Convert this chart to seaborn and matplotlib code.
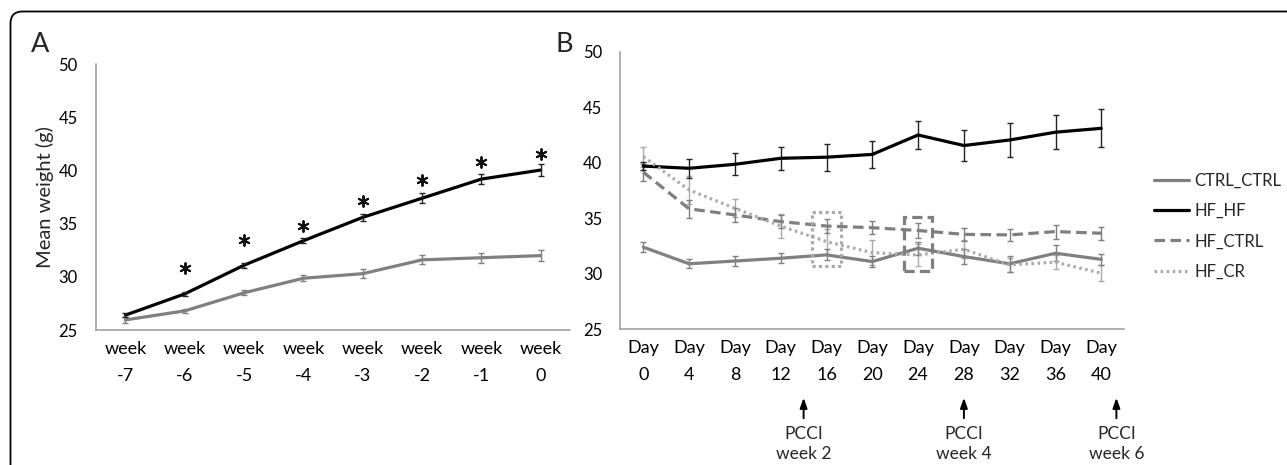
import numpy as np
import pandas as pd
import seaborn as sns
import matplotlib
matplotlib.use("Agg")
import matplotlib.pyplot as plt
import matplotlib.transforms as mtransforms
from matplotlib.patches import FancyBboxPatch, Rectangle
from matplotlib.lines import Line2D

# ---------------- data ----------------
weeks = ["-7", "-6", "-5", "-4", "-3", "-2", "-1", "0"]
a_ctrl = [25.95, 26.8, 28.5, 29.87, 30.3, 31.6, 31.8, 32.0]
a_ctrl_err = [0.25, 0.2, 0.25, 0.28, 0.4, 0.42, 0.47, 0.5]
a_hf = [26.4, 28.4, 31.1, 33.4, 35.6, 37.4, 39.2, 40.05]
a_hf_err = [0.2, 0.2, 0.25, 0.25, 0.35, 0.45, 0.5, 0.55]
star_weeks = ["-6", "-5", "-4", "-3", "-2", "-1", "0"]
star_y = [30.8, 33.5, 34.8, 37.1, 39.1, 40.8, 41.6]

days = ["0", "4", "8", "12", "16", "20", "24", "28", "32", "36", "40"]
b_ctrl_ctrl = [32.4, 30.9, 31.15, 31.4, 31.7, 31.1, 32.3, 31.55, 30.9, 31.85, 31.3]
b_ctrl_ctrl_err = [0.45, 0.4, 0.45, 0.45, 0.5, 0.5, 0.6, 0.7, 0.7, 0.72, 0.5]
b_hf_hf = [39.7, 39.5, 39.86, 40.4, 40.5, 40.75, 42.5, 41.55, 42.05, 42.75, 43.1]
b_hf_hf_err = [0.35, 0.86, 1.0, 1.05, 1.2, 1.25, 1.3, 1.37, 1.56, 1.55, 1.7]
b_hf_ctrl = [39.15, 35.85, 35.3, 34.7, 34.3, 34.15, 33.9, 33.55, 33.5, 33.8, 33.65]
b_hf_ctrl_err = [0.75, 0.8, 0.6, 0.6, 0.6, 0.6, 0.65, 0.6, 0.57, 0.63, 0.6]
b_hf_cr = [40.55, 37.55, 35.9, 34.3, 32.9, 31.9, 31.7, 32.2, 30.8, 31.05, 30.05]
b_hf_cr_err = [0.9, 1.3, 0.8, 1.1, 1.1, 1.1, 1.0, 0.8, 0.6, 0.65, 0.72]

groups = ["CTRL_CTRL", "HF_HF", "HF_CTRL", "HF_CR"]
pcci_labels = ["week 2", "week 4", "week 6"]

# highlighted points (day, y-low, y-high)
box16 = ("16", 30.7, 35.6)
box24 = ("24", 30.25, 35.1)

# ---------------- style ----------------
sns.set_theme(style="white")
plt.rcParams["font.family"] = ["Lato", "DejaVu Sans"]
FS_Y = 12
FS_X = 13
FS_LEG = 12
FS_PCCI = 12.5

colors = {"CTRL_CTRL": "#808080", "HF_HF": "#000000", "HF_CTRL": "#7f7f7f", "HF_CR": "#aaaaaa"}
ecolors = {"CTRL_CTRL": "#808080", "HF_HF": "#222222", "HF_CTRL": "#7f7f7f", "HF_CR": "#aaaaaa"}
LW = 2.3
dashes = {"CTRL_CTRL": "", "HF_HF": "", "HF_CTRL": (3.3, 1.7), "HF_CR": (0.8, 1.1)}
spine_c = "#9a9a9a"

fig = plt.figure(figsize=(12.87, 4.65), dpi=100)
W, H = 1287, 465
axA = fig.add_axes([95.8 / W, 1 - 330 / H, 474.6 / W, (330 - 64.3) / H])
axB = fig.add_axes([620.4 / W, 1 - 329.3 / H, 503.8 / W, (329.3 - 51.7) / H])

# ---------------- panel A ----------------
dfA = pd.DataFrame({
    "pos": list(range(len(weeks))) * 2,
    "value": a_ctrl + a_hf,
    "group": ["CTRL"] * len(weeks) + ["HF"] * len(weeks),
})
sns.lineplot(data=dfA, x="pos", y="value", hue="group",
             palette={"CTRL": "#808080", "HF": "#000000"},
             linewidth=LW, legend=False, ax=axA, sort=False)
xa = np.arange(len(weeks))
axA.errorbar(xa, a_ctrl, yerr=a_ctrl_err, fmt="none", ecolor="#808080", elinewidth=1.0, capsize=2.3, capthick=1.0)
axA.errorbar(xa, a_hf, yerr=a_hf_err, fmt="none", ecolor="#222222", elinewidth=1.0, capsize=2.3, capthick=1.0)
sx = [weeks.index(w) for w in star_weeks]
axA.scatter(sx, star_y, marker=(6, 2, 0), s=60, color="#111111", linewidths=1.4, zorder=5)

axA.set_xlim(-0.5, len(weeks) - 0.5)
axA.set_ylim(25, 50)
axA.set_yticks([25, 30, 35, 40, 45, 50])
axA.set_xticks(xa)
axA.set_xticklabels([f"week\n{w}" for w in weeks])
axA.set_ylabel("Mean weight (g)", fontsize=14.5, labelpad=3)
axA.set_xlabel("")

# ---------------- panel B ----------------
xb = np.arange(len(days))
series = {"CTRL_CTRL": (b_ctrl_ctrl, b_ctrl_ctrl_err), "HF_HF": (b_hf_hf, b_hf_hf_err),
          "HF_CTRL": (b_hf_ctrl, b_hf_ctrl_err), "HF_CR": (b_hf_cr, b_hf_cr_err)}
rows = []
for g in groups:
    for i, v in enumerate(series[g][0]):
        rows.append({"pos": i, "value": v, "group": g})
dfB = pd.DataFrame(rows)
order_draw = ["HF_CR", "HF_CTRL", "CTRL_CTRL", "HF_HF"]
for g in order_draw:
    vals, errs = series[g]
    axB.errorbar(xb, vals, yerr=errs, fmt="none", ecolor=ecolors[g], elinewidth=1.0,
                 capsize=2.3, capthick=1.0, zorder=2)
sns.lineplot(data=dfB, x="pos", y="value", hue="group", style="group",
             hue_order=groups, style_order=groups, palette=colors, dashes=dashes,
             linewidth=LW, legend=False, ax=axB, sort=False, zorder=3)
for line in axB.get_lines():
    line.set_dash_capstyle("butt")

# highlight boxes
for (d, lo, hi), c, ls, lw in [(box16, "#aaaaaa", (0, (1.0, 1.0)), 2.3),
                               (box24, "#7f7f7f", (0, (3.2, 1.6)), 2.3)]:
    xi = days.index(d)
    axB.add_patch(Rectangle((xi - 0.31, lo), 0.62, hi - lo, fill=False,
                            edgecolor=c, linestyle=ls, linewidth=lw, zorder=4))

axB.set_xlim(-0.5, len(days) - 0.5)
axB.set_ylim(25, 50)
axB.set_yticks([25, 30, 35, 40, 45, 50])
axB.set_xticks(xb)
axB.set_xticklabels([f"Day\n{d}" for d in days])
axB.set_xlabel("")
axB.set_ylabel("")

for ax in (axA, axB):
    sns.despine(ax=ax)
    for s in ("left", "bottom"):
        ax.spines[s].set_color(spine_c)
        ax.spines[s].set_linewidth(1.1)
    ax.tick_params(axis="both", length=0, colors="#000000")
    ax.tick_params(axis="y", pad=13, labelsize=FS_Y)
    ax.tick_params(axis="x", pad=8, labelsize=FS_X)
    for lab in ax.get_xticklabels():
        lab.set_linespacing(1.85)

# legend
handles = [Line2D([0], [0], color=colors[g], linewidth=LW,
                  linestyle=("-" if dashes[g] == "" else (0, dashes[g]))) for g in groups]
fig.legend(handles, groups, loc="upper left", bbox_to_anchor=(1154 / W, 1 - 173 / H),
           frameon=False, fontsize=FS_LEG, handlelength=2.1, handletextpad=0.3,
           labelspacing=0.85, borderpad=0, borderaxespad=0)

# PCCI arrows
trB = mtransforms.blended_transform_factory(axB.transData, fig.transFigure)
arrow_x = [3.5, 7.0, 10.33]
for xpos, lab in zip(arrow_x, pcci_labels):
    axB.annotate("", xy=(xpos, 1 - 395 / H), xytext=(xpos, 1 - 421 / H),
                 xycoords=trB, textcoords=trB,
                 arrowprops=dict(arrowstyle="-|>,head_length=0.5,head_width=0.18",
                                 color="black", lw=1.4), annotation_clip=False)
    fig.text(xpos, 1 - 434 / H, "PCCI", transform=trB, ha="center", va="center", fontsize=FS_PCCI)
    fig.text(xpos, 1 - 454 / H, lab, transform=trB, ha="center", va="center", fontsize=FS_PCCI)

# panel letters
fig.text(31 / W, 1 - 52 / H, "A", fontsize=19.5, ha="left", va="baseline")
fig.text(556 / W, 1 - 52 / H, "B", fontsize=19.5, ha="left", va="baseline")

# outer rounded frame (pixel coordinates)
frame = FancyBboxPatch((10.5, -80), 1400, 454 + 80 - 0.5,
                       boxstyle="round,pad=0,rounding_size=12",
                       transform=mtransforms.IdentityTransform(),
                       fill=False, edgecolor="black", linewidth=1.3, clip_on=False)
fig.patches.append(frame)

fig.savefig("out.png", dpi=100)
